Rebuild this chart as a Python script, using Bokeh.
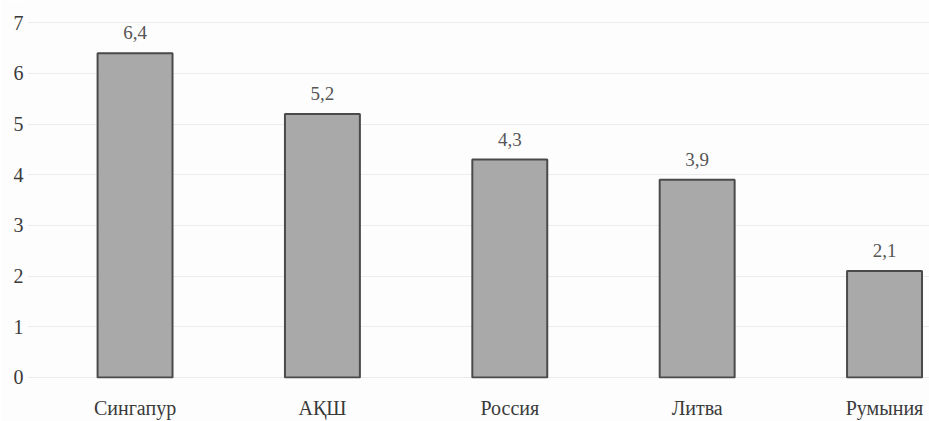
from bokeh.plotting import figure
from bokeh.models import ColumnDataSource, Range1d, FixedTicker, LabelSet
from bokeh.core.properties import value
from bokeh.embed import file_html
from bokeh.resources import INLINE

countries = ["Сингапур", "АҚШ", "Россия", "Литва", "Румыния"]
values = [6.4, 5.2, 4.3, 3.9, 2.1]
value_labels = ["6,4", "5,2", "4,3", "3,9", "2,1"]
y_ticks = [0, 1, 2, 3, 4, 5, 6, 7]

xs = list(range(len(countries)))
src = ColumnDataSource(dict(x=xs, top=values, lab=value_labels))

p = figure(width=929, height=421, output_backend="svg", toolbar_location=None,
           x_range=Range1d(-0.574, 4.24), y_range=Range1d(-0.02, 7.44),
           min_border_left=27, min_border_right=0, min_border_top=0, min_border_bottom=30)
p.outline_line_color = None
p.background_fill_color = "#fdfdfd"
p.border_fill_color = "#fdfdfd"

p.vbar(x="x", top="top", width=0.4, source=src, fill_color="#a9a9a9",
       line_color="#4a4a4a", line_width=2)

labels = LabelSet(x="x", y="top", text="lab", source=src, text_align="center",
                  text_baseline="bottom", y_offset=14, text_font=value("Liberation Serif"),
                  text_font_size=value("19px"), text_color=value("#555555"))
p.add_layout(labels)

p.xaxis.ticker = FixedTicker(ticks=xs)
p.xaxis.major_label_overrides = {i: c for i, c in enumerate(countries)}
p.yaxis.ticker = FixedTicker(ticks=y_ticks)
for ax in (p.xaxis, p.yaxis):
    ax.axis_line_color = None
    ax.major_tick_line_color = None
    ax.minor_tick_line_color = None
    ax.major_tick_out = 0
    ax.major_tick_in = 0
    ax.minor_tick_out = 0
    ax.minor_tick_in = 0
    ax.major_label_text_font = "Liberation Serif"
    ax.major_label_text_font_size = "20px"
    ax.major_label_text_color = "#3a3a3a"
p.xaxis.major_label_standoff = 18
p.yaxis.major_label_standoff = 4

p.xgrid.grid_line_color = None
p.ygrid.grid_line_color = "#ececec"
p.ygrid.grid_line_width = 1

open("out.html", "w").write(file_html(p, INLINE))
